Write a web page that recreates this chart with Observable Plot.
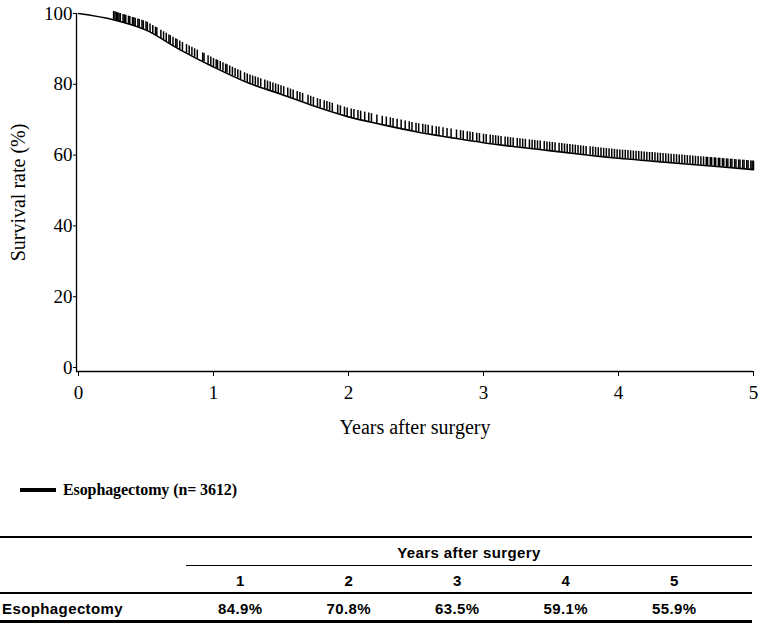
<!DOCTYPE html>
<html>
<head>
<meta charset="utf-8">
<script src="https://cdn.jsdelivr.net/npm/d3@7"></script>
<script src="https://cdn.jsdelivr.net/npm/@observablehq/plot@0.6"></script>
<style>
  body { margin: 0; background: #fff; width: 767px; overflow: hidden; color: #000; }
  #chart svg { display: block; }
  #legend { margin-top: 40px; height: 20px; position: relative; font-family: "Liberation Serif", "Times New Roman", serif; font-weight: bold; font-size: 16px; letter-spacing: -0.1px; }
  #legend .swatch { position: absolute; left: 20px; top: 8px; width: 36px; height: 4px; background: #000; }
  #legend .lab { position: absolute; left: 63px; top: 0; line-height: 20px; }
  #tablewrap { font-family: "Liberation Sans", Arial, sans-serif; font-weight: bold; font-size: 15px; letter-spacing: 0.4px; }
  table { margin-top: 36px; width: 752px; border-collapse: collapse; }
  td { height: 28px; padding: 3px 0 0 0; text-align: center; vertical-align: middle; box-sizing: border-box; }
  tr.r0 td { border-top: 2px solid #000; }
  tr.r1 td.num { border-top: 1.5px solid #000; }
  tr.r2 td { border-top: 2px solid #000; border-bottom: 3px solid #000; padding-top: 4px; }
  td.first { text-align: left; padding-left: 2px; }
</style>
</head>
<body>
<div id="chart"></div>
<div id="legend"><div class="swatch"></div><div class="lab"></div></div>
<div id="tablewrap"></div>
<script>
// ---- data ----
const survTimes = [0, 0.25, 0.5, 0.75, 1.0, 1.25, 1.5, 1.75, 2.0, 2.25, 2.5, 2.75, 3.0, 3.25, 3.5, 3.75, 4.0, 4.25, 4.5, 4.75, 5.0];
const survValues = [100, 98.3, 95.3, 89.8, 84.9, 80.5, 77.2, 73.8, 70.8, 68.6, 66.6, 65.0, 63.5, 62.3, 61.2, 60.1, 59.1, 58.3, 57.5, 56.7, 55.9];
const censorTimes = [
  0.26,0.27,0.28,0.29,0.30,0.31,0.33,0.34,0.35,0.37,0.38,0.40,0.41,0.42,0.44,0.45,0.47,0.48,0.50,0.51,0.53,0.55,0.57,0.58,0.61,0.63,0.65,0.67,0.68,0.70,0.72,0.73,0.75,0.77,0.80,0.82,0.84,0.86,0.88,0.92,0.93,0.96,0.98,
  1.00,1.02,1.03,1.05,1.07,1.09,1.10,1.12,1.14,1.16,1.18,1.20,1.23,1.25,1.27,1.29,1.31,1.33,1.35,1.38,1.40,1.42,1.44,1.46,1.48,1.50,1.52,1.55,1.57,1.59,1.62,1.64,1.66,1.70,1.72,1.74,1.77,1.79,1.82,1.84,1.86,1.88,1.92,1.94,1.97,1.99,
  2.02,2.04,2.07,2.09,2.12,2.15,2.17,2.21,2.25,2.28,2.31,2.33,2.36,2.39,2.42,2.45,2.47,2.50,2.52,2.55,2.57,2.59,2.62,2.65,2.67,2.70,2.73,2.76,2.80,2.83,2.85,2.88,2.90,2.92,2.95,2.97,
  3.00,3.02,3.05,3.07,3.09,3.11,3.13,3.16,3.18,3.20,3.22,3.25,3.27,3.29,3.31,3.34,3.36,3.38,3.40,3.42,3.45,3.47,3.49,3.51,3.53,3.56,3.58,3.60,3.62,3.64,3.66,3.68,3.70,3.72,3.74,3.76,3.79,3.81,3.83,3.85,3.87,3.89,3.91,3.93,3.95,3.97,3.99,
  4.01,4.03,4.05,4.07,4.09,4.11,4.13,4.15,4.17,4.19,4.21,4.23,4.25,4.27,4.29,4.31,4.33,4.35,4.37,4.39,4.41,4.43,4.45,4.47,4.49,4.51,4.53,4.55,4.57,4.59,4.61,4.63,4.65,4.66,4.68,4.69,4.71,4.72,4.74,4.75,4.77,4.78,4.80,4.81,4.83,4.84,4.86,4.87,4.89,4.90,4.92,4.93,4.95,4.96,4.98,4.99,5.00
];
const xTicks = [0, 1, 2, 3, 4, 5];
const yTicks = [0, 20, 40, 60, 80, 100];
const xLabel = "Years after surgery";
const yLabel = "Survival rate (%)";
const legendLabel = "Esophagectomy (n= 3612)";
const tableHeader = "Years after surgery";
const tableYears = ["1", "2", "3", "4", "5"];
const tableRowName = "Esophagectomy";
const tableValues = ["84.9%", "70.8%", "63.5%", "59.1%", "55.9%"];

// ---- build ----
const surv = survTimes.map((t, i) => ({t, s: survValues[i]}));
const interp = d3.scaleLinear().domain(survTimes).range(survValues);
const censor = censorTimes.map(t => ({t, s: interp(t)}));
const serif = "'Liberation Serif', 'Times New Roman', serif";

const chart = Plot.plot({
  width: 767,
  height: 440,
  marginLeft: 76,
  marginRight: 14,
  marginTop: 13,
  marginBottom: 69,
  insetLeft: 2,
  insetBottom: 4,
  style: {fontFamily: serif, fontSize: "19px", color: "#000", background: "#fff"},
  x: {domain: [0, 5]},
  y: {domain: [0, 100]},
  marks: [
    Plot.ruleX([0], {dx: -2, stroke: "#000", strokeWidth: 1.3}),
    Plot.ruleY([0], {dy: 4, stroke: "#000", strokeWidth: 1.3}),
    Plot.axisY({ticks: yTicks, tickSize: 3, tickPadding: 1, label: null, tickFormat: d => d, fontSize: 19, fontFamily: serif}),
    Plot.axisX({ticks: xTicks, tickSize: 5, tickPadding: 9, label: null, tickFormat: d => d, fontSize: 19, fontFamily: serif}),
    Plot.line(surv, {x: "t", y: "s", curve: "monotone-x", stroke: "#000", strokeWidth: 1.6}),
    Plot.ruleX(censor, {x: "t", y1: "s", y2: d => d.s + 2.4, stroke: "#000", strokeWidth: 1.5}),
    Plot.text([xLabel], {text: d => d, frameAnchor: "bottom", dy: 56, lineAnchor: "middle", textAnchor: "middle", fontSize: 20, fontFamily: serif}),
    Plot.text([yLabel], {text: d => d, frameAnchor: "left", rotate: -90, dx: -58, textAnchor: "middle", lineAnchor: "middle", fontSize: 20, fontFamily: serif})
  ]
});
document.getElementById("chart").appendChild(chart);

document.querySelector("#legend .lab").textContent = legendLabel;

const colWidths = [186, 108.5, 108.5, 108.5, 108.5, 108.5, 23.5];
let html = "<table><colgroup>" + colWidths.map(w => `<col style="width:${w}px">`).join("") + "</colgroup>";
html += `<tr class="r0"><td></td><td colspan="6"><div style="width:566px;text-align:center">${tableHeader}</div></td></tr>`;
html += `<tr class="r1"><td></td>` + tableYears.map(y => `<td class="num">${y}</td>`).join("") + `<td class="num"></td></tr>`;
html += `<tr class="r2"><td class="first">${tableRowName}</td>` + tableValues.map(v => `<td>${v}</td>`).join("") + `<td></td></tr>`;
html += "</table>";
document.getElementById("tablewrap").innerHTML = html;
</script>
</body>
</html>
